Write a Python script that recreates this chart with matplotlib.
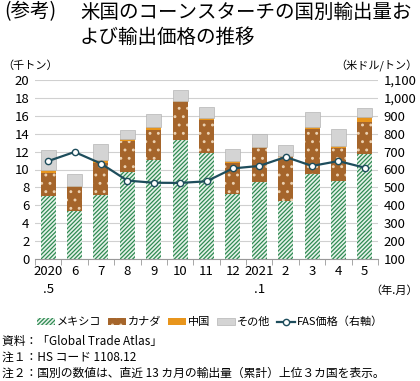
import numpy as np
import matplotlib
matplotlib.use("Agg")
import matplotlib.pyplot as plt
from matplotlib.lines import Line2D
from matplotlib.patches import Patch

plt.rcParams['font.family'] = ['Noto Sans CJK JP', 'DejaVu Sans']
plt.rcParams['hatch.linewidth'] = 0.9

# data (thousand tons, cumulative stack tops)
labels = ['2020\n.5', '6', '7', '8', '9', '10', '11', '12', '2021\n.1', '2', '3', '4', '5']
mexico = [7.0, 5.4, 7.1, 9.7, 11.1, 13.3, 11.8, 7.3, 8.6, 6.5, 9.5, 8.7, 11.7]
canada_top = [9.6, 8.0, 10.7, 13.2, 14.4, 17.5, 15.5, 10.7, 12.4, 11.4, 14.5, 12.4, 15.3]
china_top = [9.9, 8.2, 11.1, 13.4, 14.75, 17.7, 15.8, 10.9, 12.55, 11.55, 14.7, 12.65, 15.9]
other_top = [12.2, 9.5, 12.8, 14.4, 16.2, 18.9, 16.95, 12.25, 13.95, 12.75, 16.45, 14.5, 16.9]
fas_price = [647, 698, 633, 538, 526, 525, 534, 606, 620, 670, 620, 647, 610]

canada = np.array(canada_top) - np.array(mexico)
china = np.array(china_top) - np.array(canada_top)
other = np.array(other_top) - np.array(china_top)

GREEN = '#2f8a52'
BROWN = '#a5652b'
ORANGE = '#e8951c'
GRAY = '#d4d4d4'
LINE = '#1e4d5c'

fig = plt.figure(figsize=(4.2, 3.81), dpi=100)
ax = fig.add_axes([35 / 420, 1 - 259 / 381, (378 - 35) / 420, (259 - 80) / 381])

x = np.arange(len(labels))
w = 0.57
ax.bar(x, mexico, w, facecolor='#e6f2ea', edgecolor=GREEN, hatch='////////', linewidth=0)
ax.bar(x, canada, w, bottom=mexico, facecolor=BROWN, edgecolor='#ecd2b2', hatch='..', linewidth=0)
ax.bar(x, china, w, bottom=canada_top, facecolor=ORANGE, linewidth=0)
ax.bar(x, other, w, bottom=china_top, facecolor=GRAY, edgecolor='#b5b5b5', linewidth=0.5)

ax.set_ylim(0, 20)
ax.set_yticks(np.arange(0, 21, 2))
ax.set_xlim(-0.5, len(labels) - 0.5)
ax.set_xticks(x)
ax.set_xticklabels(labels, fontsize=9.5, linespacing=1.5)
ax.set_xticks(np.arange(-0.5, len(labels), 1), minor=True)
ax.tick_params(axis='x', which='major', length=0, pad=4)
ax.tick_params(axis='x', which='minor', length=4, color='#999999')
ax.tick_params(axis='y', length=0, labelsize=9.5, pad=4)
ax.yaxis.grid(True, color='#d0d0d0', linewidth=0.8)
ax.set_axisbelow(True)
for s in ['top', 'right', 'left']:
    ax.spines[s].set_visible(False)
ax.spines['bottom'].set_color('#999999')

ax2 = ax.twinx()
ax2.plot(x, fas_price, color=LINE, linewidth=1.6, marker='o', markersize=4.5,
         markerfacecolor='white', markeredgecolor=LINE, markeredgewidth=1.0)
ax2.set_ylim(100, 1100)
ax2.set_yticks(np.arange(100, 1101, 100))
ax2.set_yticklabels([f'{v:,}' for v in range(100, 1101, 100)])
ax2.tick_params(axis='y', length=0, labelsize=9.5, pad=4)
for s in ['top', 'right', 'left', 'bottom']:
    ax2.spines[s].set_visible(False)

# titles and unit labels
fig.text(4 / 420, 1 - 12 / 381, '(参考)', fontsize=14, va='center', ha='left')
fig.text(80 / 420, 1 - 12 / 381, '米国のコーンスターチの国別輸出量お', fontsize=14, va='center', ha='left')
fig.text(80 / 420, 1 - 37 / 381, 'よび輸出価格の推移', fontsize=14, va='center', ha='left')
fig.text(2 / 420, 1 - 66 / 381, '（千トン）', fontsize=8, va='center', ha='left')
fig.text(418 / 420, 1 - 66 / 381, '（米ドル/トン）', fontsize=8, va='center', ha='right')
fig.text(418 / 420, 1 - 291 / 381, '（年.月）', fontsize=8, va='center', ha='right')

handles = [
    Patch(facecolor='#e6f2ea', edgecolor=GREEN, hatch='////////', linewidth=0),
    Patch(facecolor=BROWN, edgecolor='#ecd2b2', hatch='..', linewidth=0),
    Patch(facecolor=ORANGE, linewidth=0),
    Patch(facecolor=GRAY, edgecolor='#b5b5b5', linewidth=0.5),
    Line2D([0], [0], color=LINE, linewidth=1.6, marker='o', markersize=4.5,
           markerfacecolor='white', markeredgecolor=LINE),
]
names = ['メキシコ', 'カナダ', '中国', 'その他', 'FAS価格（右軸）']
fig.legend(handles, names, loc='center', bbox_to_anchor=(0.5, 1 - 322 / 381), ncol=5,
           frameon=False, fontsize=8, handlelength=1.6, handleheight=0.6,
           handletextpad=0.2, columnspacing=0.6)

notes = ['資料：「Global Trade Atlas」', '注１：HS コード 1108.12',
         '注２：国別の数値は、直近 13 カ月の輸出量（累計）上位３カ国を表示。']
for i, t in enumerate(notes):
    fig.text(2 / 420, 1 - (341 + 16 * i) / 381, t, fontsize=8.5, va='center', ha='left')

fig.savefig('out.png', dpi=100)
